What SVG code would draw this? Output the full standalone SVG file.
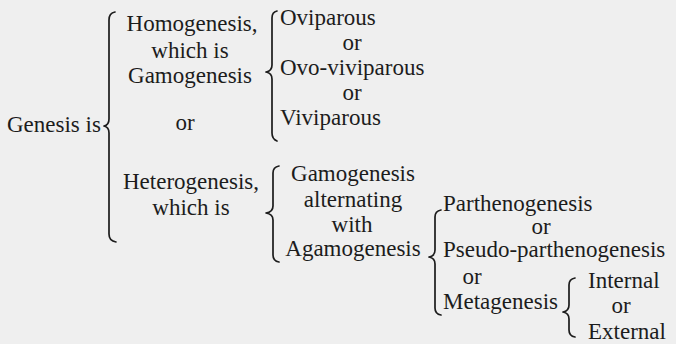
<svg xmlns="http://www.w3.org/2000/svg" width="676" height="344" viewBox="0 0 676 344">
<style>
.t{font-size:23px;fill:#1c1c1c}
.m{text-anchor:middle}
.b{fill:none;stroke:#1c1c1c;stroke-width:1.7;stroke-linecap:round;stroke-linejoin:round}
</style>
<rect width="676" height="344" fill="#efefef"/>
<g id="connectors">
<path class="b" d="M115,12 Q109,13 109,20 L109,119 Q109,125 104,126 Q109,127 109,133 L109,234 Q109,241 116,242"/>
<path class="b" d="M277,11 Q272,12 272,18 L272,65 Q272,71 266,72 Q272,73 272,79 L272,133 Q272,139 277,141"/>
<path class="b" d="M279,166 Q273,167 273,173 L273,206 Q273,212 266,213 Q273,214 273,220 L273,255 Q273,261 279,262"/>
<path class="b" d="M441,210 Q435,211 435,217 L435,250 Q435,256 429,257 Q435,258 435,264 L435,308 Q435,314 441,315"/>
<path class="b" d="M575,278 Q569,279 569,285 L569,305 Q569,311 563,312 Q569,313 569,319 L569,330 Q569,336 575,337"/>
</g>
<g class="t" font-family="Liberation Serif, Times New Roman, serif">
<g id="genesis"><text x="7" y="132">Genesis is</text></g>
<g id="homogenesis">
<text class="m" x="192" y="31">Homogenesis,</text>
<text class="m" x="190" y="58">which is</text>
<text class="m" x="190" y="83">Gamogenesis</text>
</g>
<g id="or-main"><text class="m" x="185" y="130">or</text></g>
<g id="heterogenesis">
<text class="m" x="191" y="189">Heterogenesis,</text>
<text class="m" x="191" y="215">which is</text>
</g>
<g id="gamogenesis-modes">
<text x="280" y="25">Oviparous</text>
<text class="m" x="352" y="50">or</text>
<text x="280" y="75">Ovo-viviparous</text>
<text class="m" x="352" y="100">or</text>
<text x="280" y="125">Viviparous</text>
</g>
<g id="alternation">
<text class="m" x="353" y="181">Gamogenesis</text>
<text class="m" x="353" y="207">alternating</text>
<text class="m" x="352" y="232">with</text>
<text class="m" x="353" y="256">Agamogenesis</text>
</g>
<g id="agamogenesis-modes">
<text x="443" y="211">Parthenogenesis</text>
<text class="m" x="541" y="234">or</text>
<text x="443" y="257">Pseudo-parthenogenesis</text>
<text class="m" x="472" y="284">or</text>
<text x="443" y="309">Metagenesis</text>
</g>
<g id="metagenesis-modes">
<text x="588" y="288">Internal</text>
<text class="m" x="621" y="313">or</text>
<text x="588" y="339">External</text>
</g>
</g>
</svg>
